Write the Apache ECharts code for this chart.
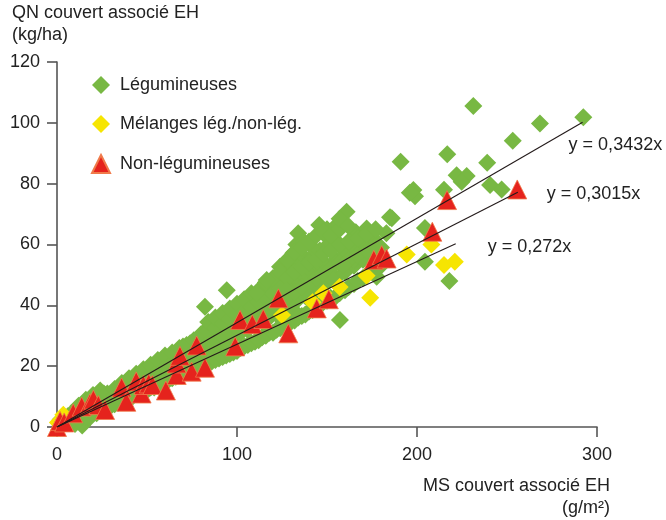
<!DOCTYPE html>
<html><head><meta charset="utf-8">
<script src="https://cdn.jsdelivr.net/npm/echarts@6/dist/echarts.min.js"></script>
<style>html,body{margin:0;padding:0;background:#fff}#c{width:666px;height:520px}</style>
</head><body><div id="c"></div>
<script>
// ---- Data ----
const seriesNames = ['Légumineuses', 'Mélanges lég./non-lég.', 'Non-légumineuses'];
const xTicks = [0, 100, 200, 300];
const yTicks = [0, 20, 40, 60, 80, 100, 120];

const legumineuses = [
  [2,0.5],[2,2.5],[6,1.5],[6,3.5],[10,1],[10,3],[10,5],[14,0.5],[14,3.5],[14,6.5],
  [18,3],[18,5.5],[18,8],[22,4.5],[22,7],[22,9.5],[26,5.5],[26,8.5],[26,11],
  [30,7],[30,9.5],[30,11],[34,8],[34,10.5],[34,12.5],[38,9],[38,12],[38,14],
  [42,10],[42,13],[42,15.5],[46,11],[46,14],[46,17],[50,12],[50,15],[50,18],
  [54,13],[54,16],[54,19.5],[58,14.5],[58,17.5],[58,20.5],[62,15.5],[62,18.5],[62,22],
  [66,16.5],[66,20],[66,23],[70,17.5],[70,21],[70,24.5],[70,26.5],[74,18.5],[74,22],[74,26],[74,27.5],
  [78,19.5],[78,23.5],[78,27],[78,29],[82,20.5],[82,24.5],[82,28],[82,31.5],[82.2,39.5],
  [86,21.5],[86,26],[86,30],[86,33],[90,22.5],[90,27],[90,31],[90,34.5],
  [94,23.5],[94,28],[94,32.5],[94,36],[94.3,45],[98,24.5],[98,29.5],[98,34],[98,37.5],
  [102,26],[102,31],[102,35.5],[102,39],[106,27],[106,32],[106,37],[106,40.5],
  [110,28],[110,33.5],[110,38.5],[110,42],[114,29.5],[114,34.5],[114,39.5],[114,43.5],
  [118,31],[118,36],[118,41],[118,45.5],[122,32],[122,37],[122,42.5],[122,47],[123.9,52.7],
  [126,33],[126,38.5],[126,44],[126,48.5],[130,34.5],[130,40.5],[130,46.5],[130,52],[131.3,57.1],
  [134,36],[134,42],[134,48],[134,54],[133,60],[134,63.7],[138,37],[138,43],[138,49.5],[138,55.5],[137,61],
  [142,38.5],[142,44.5],[142,51],[142,56],[140.6,59.8],[146,40],[146,46],[146,52.5],[146,58],[149.8,62.6],[145.7,66.4],
  [150,41.5],[150,47.5],[150,53],[150,59.5],[150,65],[155,43],[155,49],[155,55],[155,61],[155.4,66.4],
  [160,45],[160,51],[160,57],[162.8,61.5],[160.9,70.8],[165,47],[165,53],[164.6,54.9],[165,59],[166,64],
  [170,49],[170,55],[171.1,60.9],[172,65.3],[175,51],[175,57],[176,62],[177.6,49.4],[180,53],[180,59],[183,63.7],
  [4,1.5],[4,3],[8,2],[8,4.5],[12,2.5],[12,5],[12,7],[16,3.5],[16,6.5],[16,9],
  [20,4.5],[20,7.5],[20,10.5],[24,5.5],[24,9],[24,12],[28,6.5],[28,9],[28,11],
  [32,7.5],[32,10.5],[32,12.5],[36,9],[36,12],[36,14.5],[40,10],[40,13],[40,16],
  [44,11],[44,14.5],[44,17.5],[48,12],[48,16],[48,19],[52,13],[52,17],[52,20.5],
  [56,14],[56,18.5],[56,22],[60,15],[60,19.5],[60,23.5],[64,16],[64,21],[64,24.5],
  [68,17],[68,22],[68,26],[72,18],[72,23.5],[72,27],[76,19],[76,25],[76,28.5],
  [80,20],[80,26],[80,30.5],[84,21],[84,27.5],[84,31.5],[84,34.5],[88,22],[88,28.5],[88,32.5],[88,36],
  [92,23],[92,30],[92,34],[92,37.5],[96,24],[96,31],[96,35.5],[96,39],
  [100,25],[100,32.5],[100,37],[100,40.5],[104,26.5],[104,34],[104,38],[104,42],
  [108,27.5],[108,35],[108,39.5],[108,44],[112,28.5],[112,36],[112,41],[112,45],
  [116,30],[116,37.5],[116,42.5],[116,47.5],[120,31],[120,39],[120,44],[120,49],
  [124,32.5],[124,40.5],[124,45.5],[124,51],[128,34],[128,43],[128,49],[128,55],
  [132,35],[132,44.5],[132,51],[132,57.5],[136,36.5],[136,46],[136,52.5],[136,59],
  [140,38],[140,47.5],[140,54],[140,61],[144,39.5],[144,49],[144,55],[144,63],
  [148,41],[148,50.5],[148,57],[148,64],[152,42.5],[152,52],[152,58],[152,63],
  [157,44],[157,54],[157,60],[157,65],[157,68.5],[162,46],[162,55],[162,61],[162,66],
  [167,48],[167,56.5],[167,62],[172,50],[172,58],[172,63.5],[177,52],[177,59.5],[177,65],
  [131.3,38.5],[140.6,42.8],[157.2,35.2],[127.6,45],[110.9,44],[116.5,48.3],[153.5,48.3],[159,53.3],
  [186,68.6],[185,69],[204.4,65.4],[204.4,54.3],[218,48],[198,77.9],[198.9,75.9],[196,77],
  [190.9,87.2],[216.8,89.7],[215,78],[222,82.8],[227.6,82.5],[224.8,80.6],[239,86.9],[240.6,79.6],[247,78.1],
  [253.2,94.1],[231.3,105.5],[268.3,99.8],[292.4,101.8]
];

const melanges = [
  [0.5,1.5],[3.5,4],[125,36.8],[142,41],[148,44],[157,46],[172,49.7],[174,42.5],
  [194.3,56.7],[208,60],[215,53.3],[221,54.3]
];

const nonLegumineuses = [
  [0,0],[1.7,2],[4,1.5],[9,4.5],[13.7,6.7],[18.3,7.8],[20.2,9],[23,7.2],[26.7,5.6],
  [35.9,13],[38.5,8.3],[44,15],[47,11],[48,13.8],[51,14.3],[53,13.8],[60.5,12],
  [66.5,17.1],[66.5,20.9],[68.3,23.4],[74.8,18.2],[77.6,26.8],[82.2,19.5],[99,26.5],
  [101.7,35.2],[108.5,33.8],[114.6,35.5],[123,42.3],[128.5,30.8],[144.3,39],[151,42],
  [176,55],[180.4,56.5],[183.1,55.4],[208.5,64.2],[216.7,74.6],[255.7,78.1]
];

// regression lines: slope and end of each line (g/m²)
const slopes = [0.3432, 0.3015, 0.272];
const slopeLabels = ['y = 0,3432x', 'y = 0,3015x', 'y = 0,272x'];
const lineEnds = [292, 256, 221.5];

// ---- Chart ----
const FONT = '"Liberation Sans", Arial, Helvetica, sans-serif';
const chart = echarts.init(document.getElementById('c'), null, {renderer: 'canvas'});

const labelOffsets = [[-19, 23], [24, 2], [27, 3]];
const lineSeries = slopes.map((s, i) => ({
  type: 'line',
  name: 'reg' + i,
  data: [[0, 0], [lineEnds[i], s * lineEnds[i]]],
  symbol: 'none',
  lineStyle: {color: '#231a1a', width: 1.1},
  endLabel: {show: true, distance: 5, offset: labelOffsets[i],
    formatter: () => slopeLabels[i], fontFamily: FONT, fontSize: 18, color: '#222'},
  z: 10, silent: true, animation: false
}));

chart.setOption({
  animation: false,
  backgroundColor: '#ffffff',
  grid: {left: 57, right: 69, top: 62, bottom: 93, containLabel: false},
  xAxis: {
    type: 'value', min: 0, max: 300, interval: 100,
    axisLine: {show: true, lineStyle: {color: '#555', width: 1.6}},
    axisTick: {show: true, length: 10, lineStyle: {color: '#555', width: 1.6}},
    axisLabel: {margin: 19, fontFamily: FONT, fontSize: 18, color: '#222',
      formatter: v => xTicks.includes(v) ? String(v) : ''},
    splitLine: {show: false}
  },
  yAxis: {
    type: 'value', min: 0, max: 120, interval: 20,
    axisLine: {show: true, lineStyle: {color: '#555', width: 1.6}},
    axisTick: {show: true, length: 10, lineStyle: {color: '#555', width: 1.6}},
    axisLabel: {margin: 17, fontFamily: FONT, fontSize: 18, color: '#222',
      formatter: v => yTicks.includes(v) ? String(v) : ''},
    splitLine: {show: false}
  },
  legend: {
    data: seriesNames,
    orient: 'vertical', left: 86, top: 71,
    itemWidth: 18, itemHeight: 18, itemGap: 21,
    textStyle: {fontFamily: FONT, fontSize: 18, color: '#222', padding: [0, 0, 0, 5]}
  },
  graphic: [
    {type: 'text', left: 12, top: 4, style: {text: 'QN couvert associé EH', font: '18px ' + FONT, fill: '#222'}},
    {type: 'text', left: 12, top: 26, style: {text: '(kg/ha)', font: '18px ' + FONT, fill: '#222'}},
    {type: 'text', right: 56, top: 477, style: {text: 'MS couvert associé EH', font: '18px ' + FONT, fill: '#222'}},
    {type: 'text', right: 56, top: 499, style: {text: '(g/m²)', font: '18px ' + FONT, fill: '#222'}}
  ],
  series: [
    {type: 'scatter', name: seriesNames[0], data: legumineuses, symbol: 'diamond', symbolSize: 18,
      itemStyle: {color: '#78b843', opacity: 1}, clip: false, z: 2},
    {type: 'scatter', name: seriesNames[1], data: melanges, symbol: 'diamond', symbolSize: 18,
      itemStyle: {color: '#f6e502', opacity: 1}, clip: false, z: 3},
    {type: 'scatter', name: seriesNames[2], data: nonLegumineuses, symbol: 'triangle', symbolSize: 19,
      itemStyle: {color: '#e5231d', borderColor: '#f07a4a', borderWidth: 0.8, opacity: 1}, clip: false, z: 4},
    ...lineSeries
  ]
});
</script>
</body></html>
